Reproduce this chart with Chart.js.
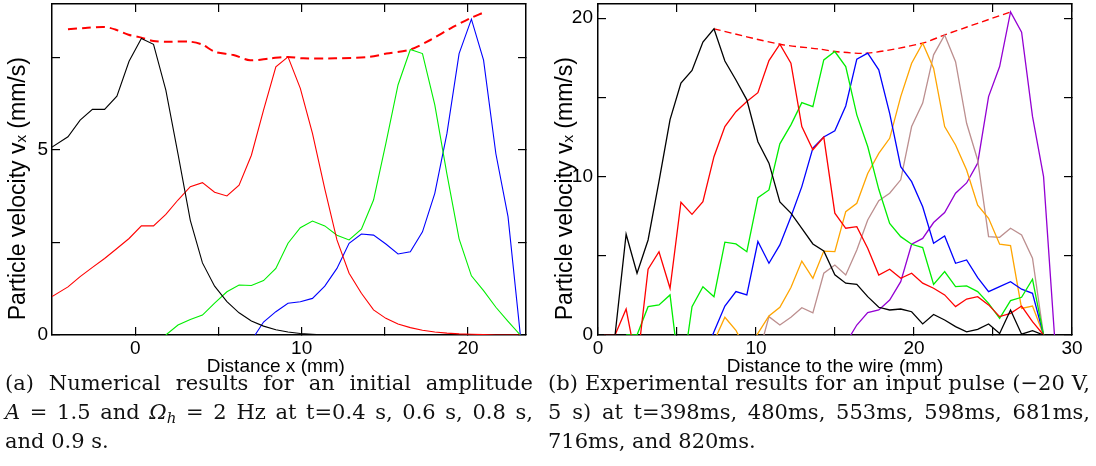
<!DOCTYPE html>
<html><head><meta charset="utf-8">
<script src="https://cdn.jsdelivr.net/npm/chart.js@4.4.0/dist/chart.umd.min.js"></script>
<style>
html,body{margin:0;padding:0;background:#fff;width:1096px;height:466px;overflow:hidden}
body{position:relative}
canvas{position:absolute;top:0}
#c1{left:0}
#c2{left:540px}
.cap{position:absolute;font-family:'DejaVu Serif',serif;font-size:21px;line-height:29px;color:#111}
.cap .j{text-align:justify;text-align-last:justify}
.cap sub{font-size:15px;line-height:0;vertical-align:-4px}
</style></head><body>
<canvas id="c1" width="540" height="378"></canvas>
<canvas id="c2" width="556" height="378"></canvas>
<div class="cap" style="left:5px;top:369px;width:528px">
<div class="j">(a) Numerical results for an initial amplitude</div>
<div class="j"><i>A</i> = 1.5 and <i>Ω</i><sub><i>h</i></sub> = 2 Hz at t=0.4 s, 0.6 s, 0.8 s,</div>
<div>and 0.9 s.</div>
</div>
<div class="cap" style="left:548px;top:369px;width:542px">
<div class="j">(b) Experimental results for an input pulse (−20 V,</div>
<div class="j">5 s) at t=398ms, 480ms, 553ms, 598ms, 681ms,</div>
<div>716ms, and 820ms.</div>
</div>
<script>
// ---------- (a) numerical results ----------
const numXTicks = [0, 5, 10, 15, 20];
const numXLabels = [0, 10, 20];
const numYTicks = [0, 2.5, 5, 7.5];
const numYLabels = [0, 5];

const numBlackX = [-5, -4.04, -3.31, -2.57, -1.84, -1.10, -0.37, 0.37, 1.10, 1.84, 2.57, 3.31, 4.04, 4.77, 5.51, 6.24, 6.98, 7.71, 8.45, 9.18, 9.92, 10.65, 11.39];
const numBlackY = [5.08, 5.36, 5.81, 6.10, 6.10, 6.46, 7.40, 8.02, 7.86, 6.62, 4.9, 3.1, 1.95, 1.32, 0.9, 0.6, 0.38, 0.24, 0.14, 0.08, 0.04, 0.02, 0];

const numRedX = [-5, -4.04, -3.31, -2.57, -1.84, -1.10, -0.37, 0.37, 1.10, 1.84, 2.57, 3.31, 4.04, 4.77, 5.51, 6.24, 6.98, 7.71, 8.45, 9.18, 9.92, 10.65, 11.39, 12.12, 12.85, 13.59, 14.32, 15.06, 15.79, 16.53, 17.26, 18.00, 18.73, 19.46, 20.20, 20.93, 21.67, 22.40, 23.14];
const numRedY = [1.04, 1.30, 1.58, 1.83, 2.07, 2.34, 2.61, 2.95, 2.95, 3.26, 3.65, 4.01, 4.12, 3.86, 3.76, 4.05, 4.86, 6.08, 7.25, 7.52, 6.67, 5.45, 3.95, 2.57, 1.67, 1.13, 0.68, 0.45, 0.30, 0.20, 0.13, 0.08, 0.05, 0.03, 0.02, 0.01, 0, 0, 0];

const numGreenX = [1.84, 2.57, 3.31, 4.04, 4.77, 5.51, 6.24, 6.98, 7.71, 8.45, 9.18, 9.92, 10.65, 11.39, 12.12, 12.85, 13.59, 14.32, 15.06, 15.79, 16.53, 17.26, 18.00, 18.73, 19.46, 20.20, 20.93, 21.67, 22.40, 23.14];
const numGreenY = [0, 0.27, 0.42, 0.54, 0.86, 1.17, 1.35, 1.34, 1.47, 1.80, 2.48, 2.90, 3.08, 2.95, 2.70, 2.57, 2.86, 3.65, 5.18, 6.76, 7.72, 7.61, 6.22, 4.35, 2.6, 1.6, 1.2, 0.75, 0.37, 0];

const numBlueX = [7.2, 7.71, 8.45, 9.18, 9.92, 10.65, 11.39, 12.12, 12.85, 13.59, 14.32, 15.06, 15.79, 16.53, 17.26, 18.00, 18.73, 19.46, 20.20, 20.93, 21.67, 22.40, 23.14];
const numBlueY = [0, 0.35, 0.63, 0.86, 0.90, 0.99, 1.32, 1.80, 2.48, 2.73, 2.70, 2.46, 2.19, 2.25, 2.79, 3.83, 5.45, 7.61, 8.54, 7.43, 4.9, 3.2, 0];

const numEnvX = [-4.04, -3.0, -1.84, -1.2, -0.4, 0.37, 1.10, 2.0, 3.31, 4.04, 4.77, 5.9, 6.9, 8.1, 9.18, 10.1, 12.0, 14.1, 15.1, 16.53, 17.7, 19.1, 20.1, 20.93];
const numEnvY = [8.27, 8.30, 8.33, 8.26, 8.12, 8.04, 7.95, 7.93, 7.93, 7.85, 7.66, 7.57, 7.43, 7.48, 7.52, 7.48, 7.48, 7.52, 7.61, 7.72, 7.97, 8.33, 8.56, 8.72];

// ---------- (b) experimental results ----------
const expXTicks = [0, 5, 10, 15, 20, 25, 30];
const expXLabels = [0, 10, 20, 30];
const expYTicks = [0, 5, 10, 15, 20];
const expYLabels = [0, 10, 20];

const expX = [0.39, 1.08, 1.78, 2.47, 3.17, 3.86, 4.56, 5.25, 5.95, 6.64, 7.34, 8.03, 8.73, 9.42, 10.12, 10.82, 11.51, 12.21, 12.90, 13.60, 14.29, 14.99, 15.68, 16.38, 17.07, 17.77, 18.46, 19.16, 19.85, 20.55, 21.24, 21.94, 22.63, 23.33, 24.03, 24.72, 25.42, 26.11, 26.81, 27.50, 28.20, 28.89];
const exp398 = [0, 0, 6.36, 3.9, 6.0, 9.7, 13.6, 15.9, 16.7, 18.5, 19.33, 17.3, 16.1, 14.85, 12.2, 10.85, 8.4, 7.7, 6.74, 5.75, 5.3, 3.8, 3.27, 3.2, 2.42, 1.75, 1.58, 1.64, 1.47, 0.7, 1.3, 0.95, 0.53, 0.2, 0.36, 0.7, 0.1, 1.58, 0.05, 0.27, 0, null];
const exp480 = [0, 0, 1.64, -1.9, 4.15, 5.26, 2.95, 8.38, 7.62, 8.42, 11.26, 13.16, 14.1, 14.74, 15.3, 17.33, 18.36, 17.16, 13.16, 11.7, 12.5, 7.69, 6.74, 6.84, 5.48, 3.79, 4.15, 3.58, 3.9, 3.27, 2.95, 2.53, 1.79, 2.27, 2.42, 1.9, 1.16, 1.37, 1.83, 0.84, 0, null];
const exp553 = [null, null, 0, 0, 1.79, 1.9, 2.53, -3.1, 1.79, 3.05, 2.42, 5.86, 5.75, 5.26, 8.67, 9.16, 12.07, 13.27, 14.67, 14.42, 17.37, 17.9, 16.95, 13.9, 11.9, 9.2, 7.05, 6.21, 5.73, 5.52, 3.2, 4.0, 3.05, 3.1, 2.74, 2.0, 1.05, 2.17, 2.38, 3.52, 0, null];
const exp598 = [null, null, null, null, null, null, null, null, null, -1.5, 0.2, 1.83, 2.74, 2.53, 5.9, 4.53, 5.69, 7.47, 9.37, 11.8, 12.5, 12.9, 14.46, 17.42, 17.8, 16.74, 14.0, 10.63, 9.68, 8.1, 5.79, 6.25, 4.53, 4.74, 3.62, 2.74, 3.05, 3.37, 2.89, 2.63, 0, null];
const exp681 = [null, null, null, null, null, null, null, null, null, null, -0.4, 1.12, 0.3, -1.08, 0.1, 1.2, 1.75, 3.0, 4.67, 3.58, 5.3, 5.26, 7.79, 8.32, 10.2, 11.47, 12.42, 15.05, 17.16, 18.43, 16.85, 13.16, 12.0, 10.42, 8.2, 7.37, 5.73, 5.64, 1.68, 1.83, 0, null];
const exp716 = [null, null, null, null, null, null, null, null, null, null, null, null, null, null, -1.4, 1.16, 0.63, 1.12, 1.72, 1.4, 3.9, 4.42, 3.79, 5.37, 7.26, 8.48, 8.95, 9.8, 13.16, 14.64, 17.69, 18.95, 17.26, 13.37, 11.05, 6.21, 6.17, 6.74, 6.32, 4.85, 0, null];
const exp820 = [null, null, null, null, null, null, null, null, null, null, null, null, null, null, null, null, null, null, null, null, null, null, -0.53, 0.63, 1.41, 1.58, 2.21, 3.37, 5.73, 6.1, 7.1, 7.73, 8.95, 9.6, 10.85, 15.05, 16.95, 20.4, 19.12, 13.8, 10.0, 0];
const expEnvX = [7.34, 11.51, 14.05, 14.99, 17.07, 20.55, 21.94, 26.11];
const expEnvY = [19.33, 18.36, 18.05, 17.9, 17.8, 18.43, 18.95, 20.4];

// ---------- helpers ----------
function pts(xs, ys) { return xs.map((x, i) => ({ x: x, y: ys[i] })); }
function line(xs, ys, color, w, dash) {
  return { data: pts(xs, ys), borderColor: color, borderWidth: w, borderDash: dash || [],
    pointRadius: 0, fill: false, tension: dash ? 0.3 : 0, spanGaps: false };
}
const NB = '\u00a0';
function makeScales(c) {
  const grid = { drawOnChartArea: false, drawTicks: true, tickLength: -8, color: '#000', lineWidth: 1.2 };
  const border = { display: true, color: '#000', width: 1.5 };
  const tickFont = { family: 'Liberation Sans', size: 19 };
  const setTicks = vals => s => { s.ticks = vals.map(v => ({ value: v })); };
  const lab = labs => v => labs.includes(v) ? String(v) : '';
  return {
    x: { type: 'linear', position: 'bottom', min: c.xMin, max: c.xMax, z: 1, grid: grid, border: border,
      afterBuildTicks: setTicks(c.xTicks),
      ticks: { autoSkip: false, maxRotation: 0, padding: 10, font: tickFont, color: '#000', callback: lab(c.xLabels) },
      title: { display: true, text: c.xTitle, font: { family: 'Liberation Sans', size: 19 }, color: '#000', padding: { top: 0, bottom: 0 } },
      afterFit: s => { s.height = c.bottomH; s.paddingLeft = 0; s.paddingRight = 0; } },
    x2: { type: 'linear', position: 'top', min: c.xMin, max: c.xMax, z: 1, grid: grid, border: border,
      afterBuildTicks: setTicks(c.xTicks), ticks: { display: false },
      afterFit: s => { s.height = c.topH; s.paddingLeft = 0; s.paddingRight = 0; } },
    y: { type: 'linear', position: 'left', min: c.yMin, max: c.yMax, z: 1, grid: grid, border: border,
      afterBuildTicks: setTicks(c.yTicks),
      ticks: { autoSkip: false, padding: c.yPad, font: tickFont, color: '#000', callback: lab(c.yLabels) },
      title: { display: true, text: 'Particle velocity vₓ (mm/s)' + NB.repeat(6), font: { family: 'Liberation Sans', size: 23 }, color: '#000', padding: { top: c.yTitlePad, bottom: 0 } },
      afterFit: s => { s.width = c.leftW; s.paddingTop = 0; s.paddingBottom = 0; } },
    y2: { type: 'linear', position: 'right', min: c.yMin, max: c.yMax, z: 1, grid: grid, border: border,
      afterBuildTicks: setTicks(c.yTicks), ticks: { display: false },
      afterFit: s => { s.width = c.rightW; s.paddingTop = 0; s.paddingBottom = 0; } }
  };
}
function baseOptions(scales) {
  return { responsive: false, animation: false, devicePixelRatio: 1,
    layout: { padding: 0, autoPadding: false },
    plugins: { legend: { display: false }, tooltip: { enabled: false } },
    scales: scales };
}

new Chart(document.getElementById('c1'), {
  type: 'line',
  data: { datasets: [
    line(numBlackX, numBlackY, '#000000', 1.1),
    line(numRedX, numRedY, '#ff0000', 1.1),
    line(numGreenX, numGreenY, '#00ee00', 1.1),
    line(numBlueX, numBlueY, '#0000ff', 1.1),
    line(numEnvX, numEnvY, '#ff0000', 2, [9, 5])
  ] },
  options: baseOptions(makeScales({ xMin: -5, xMax: 23.48, yMin: 0, yMax: 8.95,
    xTicks: numXTicks, xLabels: numXLabels, yTicks: numYTicks, yLabels: numYLabels,
    xTitle: 'Distance x (mm)' + NB.repeat(5), leftW: 52, rightW: 14, topH: 4, bottomH: 43, yPad: 12, yTitlePad: 5 }))
});

new Chart(document.getElementById('c2'), {
  type: 'line',
  data: { datasets: [
    line(expX, exp398, '#000000', 1.3),
    line(expX, exp480, '#ff0000', 1.3),
    line(expX, exp553, '#00ee00', 1.3),
    line(expX, exp598, '#0000ff', 1.3),
    line(expX, exp681, '#ffa500', 1.3),
    line(expX, exp716, '#bc8f8f', 1.3),
    line(expX, exp820, '#9400d3', 1.3),
    line(expEnvX, expEnvY, '#ff0000', 1.4, [7, 4])
  ] },
  options: baseOptions(makeScales({ xMin: 0, xMax: 30, yMin: 0, yMax: 20.9,
    xTicks: expXTicks, xLabels: expXLabels, yTicks: expYTicks, yLabels: expYLabels,
    xTitle: 'Distance to the wire (mm)', leftW: 58, rightW: 24, topH: 4, bottomH: 43, yPad: 13, yTitlePad: 12 }))
});
</script>
</body></html>
